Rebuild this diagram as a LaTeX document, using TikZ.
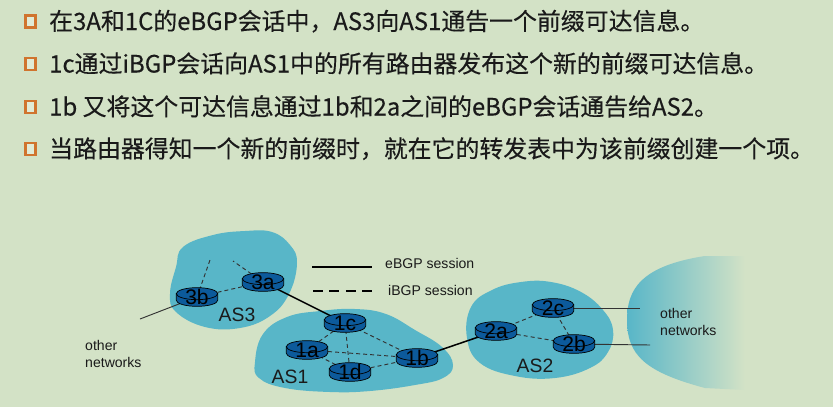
\documentclass[tikz,border=0pt]{standalone}
\usepackage{fontspec}
\setmainfont{Liberation Sans}
\newfontfamily\cjk[FakeBold=0.3]{Noto Sans CJK SC}
\definecolor{bg}{HTML}{D3E2C6}
\definecolor{cloud}{HTML}{58B6C8}
\definecolor{routerblue}{HTML}{0C5A9B}
\definecolor{bulletorange}{HTML}{D0742E}
\definecolor{ink}{HTML}{1A1A1A}
\pgfdeclarelayer{back}
\pgfdeclarelayer{mid}
\pgfdeclarelayer{rlayer}
\pgfsetlayers{back,mid,rlayer,main}
\tikzset{
  bulletbox/.style={draw=bulletorange,line width=1.8pt,minimum width=0.3cm,minimum height=0.36cm,inner sep=0pt,fill=bg!70!white},
  txt/.style={anchor=base west,inner sep=0pt,text=ink,font=\cjk\fontsize{20.4}{24}\selectfont},
  router/.style={minimum width=1.2cm,minimum height=0.54cm,inner sep=0pt,text=black,
    font=\fontsize{18}{18}\selectfont},
  rbody/.style={fill=routerblue,draw=black,line width=0.6pt},
  aslabel/.style={inner sep=0pt,text=ink,font=\fontsize{16.5}{18}\selectfont},
  small/.style={inner sep=0pt,text=ink,font=\fontsize{12}{14.5}\selectfont,align=left},
  ebgp/.style={draw=black,line width=1.3pt},
  ibgp/.style={draw=black!80,line width=0.8pt,dash pattern=on 3.4pt off 2.6pt},
  extline/.style={draw=black!80,line width=0.8pt},
  legsolid/.style={draw=black,line width=1.7pt},
  legdash/.style={draw=black,line width=1.7pt,dash pattern=on 8.5pt off 5.5pt},
}
\begin{document}
\begin{tikzpicture}[x=0.03cm,y=-0.03cm]
\useasboundingbox (0,0) rectangle (833,407);
\begin{pgfonlayer}{back}
\fill[bg] (0,0) rectangle (833,407);
% clouds
\fill[cloud] plot[smooth cycle,tension=0.7] coordinates {(183,247) (213,235) (245,231) (272,232) (290,245) (297,263) (289,294) (270,316) (240,328) (205,327) (176,312) (170,294) (176,267)};
\fill[cloud] plot[smooth cycle,tension=0.7] coordinates {(255,362) (263,334) (287,317) (320,311) (355,309) (386,314) (415,330) (442,347) (453,365) (443,378) (415,385) (370,391) (330,392) (285,388) (259,378)};
\fill[cloud] plot[smooth cycle,tension=0.7] coordinates {(467,338) (471,307) (492,290) (521,282) (551,282) (581,292) (603,310) (613,330) (608,352) (590,368) (555,378) (515,376) (480,363)};
\shade[left color=cloud,right color=bg] (627,320) .. controls (627,290) and (640,266) .. (705,256) -- (745,256) -- (745,390) -- (705,388) .. controls (645,372) and (627,355) .. (627,320) -- cycle;
\end{pgfonlayer}

% bullets and text
\node[bulletbox] (b1) at (30.5,21.5) {};
\node[bulletbox] (b2) at (30.5,64) {};
\node[bulletbox] (b3) at (30.5,107) {};
\node[bulletbox] (b4) at (30.5,149) {};
\node[txt] (t1) at (49,30) {在3A和1C的eBGP会话中，AS3向AS1通告一个前缀可达信息。};
\node[txt] (t2) at (49,72.5) {1c通过iBGP会话向AS1中的所有路由器发布这个新的前缀可达信息。};
\node[txt] (t3) at (49,115.5) {1b 又将这个可达信息通过1b和2a之间的eBGP会话通告给AS2。};
\node[txt] (t4) at (49,157.5) {当路由器得知一个新的前缀时，就在它的转发表中为该前缀创建一个项。};

% routers (labels; bodies drawn on a layer below)
\node[router] (r3a) at (263,282) {3a};
\node[router] (r3b) at (197,297) {3b};
\node[router] (r1c) at (345,323) {1c};
\node[router] (r1a) at (307,350) {1a};
\node[router] (r1d) at (350,372) {1d};
\node[router] (r1b) at (417,358) {1b};
\node[router] (r2a) at (496,331) {2a};
\node[router] (r2c) at (553,308) {2c};
\node[router] (r2b) at (574,344) {2b};

\begin{pgfonlayer}{rlayer}
\foreach \r in {r3a,r3b,r1c,r1a,r1d,r1b,r2a,r2c,r2b}{
  \begin{scope}[shift={(\r.center)}]
    \path[rbody] (-0.62cm,0.1cm) -- (-0.62cm,-0.1cm)
      arc[start angle=180,end angle=360,x radius=0.62cm,y radius=0.18cm] -- (0.62cm,0.1cm) -- cycle;
    \path[rbody] (0cm,0.1cm) ellipse[x radius=0.62cm,y radius=0.18cm];
  \end{scope}}
\end{pgfonlayer}

% free ends
\coordinate (s3b) at (210,260);
\coordinate (s3a) at (233,261);
\coordinate (o3) at (140,319);
\coordinate (o2c) at (640,308);
\coordinate (o2b) at (650,345);
\coordinate (le1) at (312,267);
\coordinate (le2) at (372,267);
\coordinate (li1) at (313,291);
\coordinate (li2) at (373,291);

\begin{pgfonlayer}{mid}
\draw[ebgp] (r3a.center) -- (r1c.center);
\draw[ebgp] (r1b.center) -- (r2a.center);
\draw[ibgp] (r3b.center) -- (r3a.center);
\draw[ibgp] (r3b.center) -- (s3b);
\draw[ibgp] (r3a.center) -- (s3a);
\draw[ibgp] (r1c.center) -- (r1a.center);
\draw[ibgp] (r1c.center) -- (r1d.center);
\draw[ibgp] (r1c.center) -- (r1b.center);
\draw[ibgp] (r1a.center) -- (r1b.center);
\draw[ibgp] (r1a.center) -- (r1d.center);
\draw[ibgp] (r1d.center) -- (r1b.center);
\draw[ibgp] (r2a.center) -- (r2c.center);
\draw[ibgp] (r2a.center) -- (r2b.center);
\draw[ibgp] (r2c.center) -- (r2b.center);
\draw[extline] (r3b.center) -- (o3);
\draw[extline] (r2c.center) -- (o2c);
\draw[extline] (r2b.center) -- (o2b);
\end{pgfonlayer}

% legend
\draw[legsolid] (le1) -- (le2);
\draw[legdash] (li1) -- (li2);
\node[small,anchor=west] (leg1) at (385,263) {eBGP session};
\node[small,anchor=west] (leg2) at (388,290) {iBGP session};

% AS labels
\node[aslabel] (as3) at (237,315) {AS3};
\node[aslabel] (as1) at (290,377) {AS1};
\node[aslabel] (as2) at (535,366) {AS2};

% other networks
\node[small,anchor=west] (onl) at (85,354) {other\\networks};
\node[small,anchor=west] (onr) at (660,322) {other\\networks};
\end{tikzpicture}
\end{document}
